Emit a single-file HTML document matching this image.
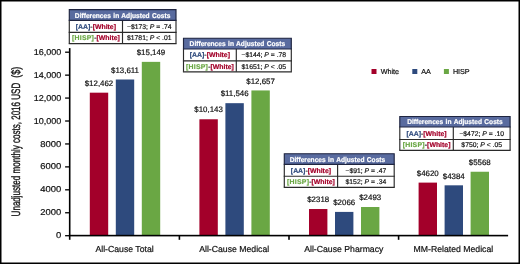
<!DOCTYPE html>
<html><head><meta charset="utf-8"><style>
html,body{margin:0;padding:0;background:#fff;width:520px;height:264px;overflow:hidden}
svg{display:block;will-change:transform;text-rendering:geometricPrecision;font-family:"Liberation Sans",sans-serif}
</style></head><body>
<svg width="520" height="264" viewBox="0 0 520 264">
<rect x="0" y="0" width="520" height="1.5" fill="#000"/>
<rect x="0" y="0" width="1.5" height="264" fill="#000"/>
<rect x="518.5" y="0" width="1.5" height="264" fill="#000"/>
<rect x="0" y="262.5" width="520" height="1.5" fill="#000"/>
<text transform="translate(20.2,216.4) rotate(-90) scale(0.66,1)" font-size="12.2" fill="#111" stroke="#111" stroke-width="0.35">Unadjusted monthly costs, 2016 USD</text>
<text transform="translate(20.2,77.75) rotate(-90) scale(0.745,1)" font-size="12.2" fill="#111" stroke="#111" stroke-width="0.35">($)</text>
<rect x="65.1" y="235.05" width="4" height="1.3" fill="#000"/>
<text transform="translate(61.2,238.30) scale(1.11,1)" text-anchor="end" font-size="8.5" fill="#111" stroke="#111" stroke-width="0.2">0</text>
<rect x="65.1" y="212.11" width="4" height="1.3" fill="#000"/>
<text transform="translate(61.2,215.36) scale(1.11,1)" text-anchor="end" font-size="8.5" fill="#111" stroke="#111" stroke-width="0.2">2000</text>
<rect x="65.1" y="189.17" width="4" height="1.3" fill="#000"/>
<text transform="translate(61.2,192.42) scale(1.11,1)" text-anchor="end" font-size="8.5" fill="#111" stroke="#111" stroke-width="0.2">4000</text>
<rect x="65.1" y="166.24" width="4" height="1.3" fill="#000"/>
<text transform="translate(61.2,169.49) scale(1.11,1)" text-anchor="end" font-size="8.5" fill="#111" stroke="#111" stroke-width="0.2">6000</text>
<rect x="65.1" y="143.30" width="4" height="1.3" fill="#000"/>
<text transform="translate(61.2,146.55) scale(1.11,1)" text-anchor="end" font-size="8.5" fill="#111" stroke="#111" stroke-width="0.2">8000</text>
<rect x="65.1" y="120.36" width="4" height="1.3" fill="#000"/>
<text transform="translate(61.2,123.61) scale(1.06,1)" text-anchor="end" font-size="8.5" fill="#111" stroke="#111" stroke-width="0.2">10,000</text>
<rect x="65.1" y="97.42" width="4" height="1.3" fill="#000"/>
<text transform="translate(61.2,100.67) scale(1.06,1)" text-anchor="end" font-size="8.5" fill="#111" stroke="#111" stroke-width="0.2">12,000</text>
<rect x="65.1" y="74.49" width="4" height="1.3" fill="#000"/>
<text transform="translate(61.2,77.74) scale(1.06,1)" text-anchor="end" font-size="8.5" fill="#111" stroke="#111" stroke-width="0.2">14,000</text>
<rect x="65.1" y="51.55" width="4" height="1.3" fill="#000"/>
<text transform="translate(61.2,54.80) scale(1.06,1)" text-anchor="end" font-size="8.5" fill="#111" stroke="#111" stroke-width="0.2">16,000</text>
<rect x="68.9" y="48.1" width="1.6" height="191.70" fill="#000"/>
<rect x="89.80" y="92.68" width="18.4" height="142.92" fill="#a3002a"/>
<text x="99.00" y="85.88" text-anchor="middle" font-size="7.9" fill="#111" stroke="#111" stroke-width="0.2">$12,462</text>
<rect x="115.80" y="79.50" width="18.4" height="156.10" fill="#2e4a7d"/>
<text x="125.00" y="72.70" text-anchor="middle" font-size="7.9" fill="#111" stroke="#111" stroke-width="0.2">$13,611</text>
<rect x="141.80" y="61.86" width="18.4" height="173.74" fill="#6aa744"/>
<text x="151.00" y="55.06" text-anchor="middle" font-size="7.9" fill="#111" stroke="#111" stroke-width="0.2">$15,149</text>
<rect x="199.40" y="119.27" width="18.4" height="116.33" fill="#a3002a"/>
<text x="208.60" y="112.47" text-anchor="middle" font-size="7.9" fill="#111" stroke="#111" stroke-width="0.2">$10,143</text>
<rect x="225.40" y="103.18" width="18.4" height="132.42" fill="#2e4a7d"/>
<text x="234.60" y="96.38" text-anchor="middle" font-size="7.9" fill="#111" stroke="#111" stroke-width="0.2">$11,546</text>
<rect x="251.40" y="90.44" width="18.4" height="145.16" fill="#6aa744"/>
<text x="260.60" y="83.64" text-anchor="middle" font-size="7.9" fill="#111" stroke="#111" stroke-width="0.2">$12,657</text>
<rect x="309.00" y="209.02" width="18.4" height="26.58" fill="#a3002a"/>
<text x="318.20" y="202.22" text-anchor="middle" font-size="7.9" fill="#111" stroke="#111" stroke-width="0.2">$2318</text>
<rect x="335.00" y="211.91" width="18.4" height="23.69" fill="#2e4a7d"/>
<text x="344.20" y="205.11" text-anchor="middle" font-size="7.9" fill="#111" stroke="#111" stroke-width="0.2">$2066</text>
<rect x="361.00" y="207.01" width="18.4" height="28.59" fill="#6aa744"/>
<text x="370.20" y="200.21" text-anchor="middle" font-size="7.9" fill="#111" stroke="#111" stroke-width="0.2">$2493</text>
<rect x="418.60" y="182.61" width="18.4" height="52.99" fill="#a3002a"/>
<text x="427.80" y="175.81" text-anchor="middle" font-size="7.9" fill="#111" stroke="#111" stroke-width="0.2">$4620</text>
<rect x="444.60" y="185.32" width="18.4" height="50.28" fill="#2e4a7d"/>
<text x="453.80" y="178.52" text-anchor="middle" font-size="7.9" fill="#111" stroke="#111" stroke-width="0.2">$4384</text>
<rect x="470.60" y="171.74" width="18.4" height="63.86" fill="#6aa744"/>
<text x="479.80" y="164.94" text-anchor="middle" font-size="7.9" fill="#111" stroke="#111" stroke-width="0.2">$5568</text>
<rect x="68.8" y="234.8" width="439.30" height="1.6" fill="#000"/>
<rect x="178.60" y="235" width="1.6" height="4.8" fill="#000"/>
<rect x="288.20" y="235" width="1.6" height="4.8" fill="#000"/>
<rect x="397.80" y="235" width="1.6" height="4.8" fill="#000"/>
<text x="124.60" y="251.8" text-anchor="middle" font-size="8.7" fill="#111" stroke="#111" stroke-width="0.2">All-Cause Total</text>
<text x="234.20" y="251.8" text-anchor="middle" font-size="8.7" fill="#111" stroke="#111" stroke-width="0.2">All-Cause Medical</text>
<text x="343.80" y="251.8" text-anchor="middle" font-size="8.7" fill="#111" stroke="#111" stroke-width="0.2">All-Cause Pharmacy</text>
<text x="453.40" y="251.8" text-anchor="middle" font-size="8.7" fill="#111" stroke="#111" stroke-width="0.2">MM-Related Medical</text>
<rect x="371.5" y="69" width="5" height="5" fill="#a3002a"/>
<text x="380.7" y="74" font-size="7.2" fill="#111" stroke="#111" stroke-width="0.2">White</text>
<rect x="412.3" y="69" width="5" height="5" fill="#2e4a7d"/>
<text x="421.3" y="74" font-size="7.2" fill="#111" stroke="#111" stroke-width="0.2">AA</text>
<rect x="443.9" y="69" width="5" height="5" fill="#6aa744"/>
<text x="452.9" y="74" font-size="7.2" fill="#111" stroke="#111" stroke-width="0.2">HISP</text>
<rect x="69.3" y="9.6" width="106.70" height="34.00" fill="#fff"/>
<rect x="69.3" y="9.6" width="106.70" height="10.70" fill="#596b9f"/>
<line x1="69.3" y1="20.3" x2="69.3" y2="43.6" stroke="#2a2a2a" stroke-width="1.15"/>
<line x1="176.0" y1="20.3" x2="176.0" y2="43.6" stroke="#2a2a2a" stroke-width="1.15"/>
<line x1="122.5" y1="20.3" x2="122.5" y2="43.6" stroke="#2a2a2a" stroke-width="1.15"/>
<line x1="68.72" y1="32.4" x2="176.57" y2="32.4" stroke="#2a2a2a" stroke-width="1.15"/>
<line x1="68.72" y1="43.6" x2="176.57" y2="43.6" stroke="#2a2a2a" stroke-width="1.15"/>
<path d="M69.3,20.3 V9.6 H176.0 V20.3" fill="none" stroke="#1f2540" stroke-width="1.15" stroke-linejoin="miter"/>
<line x1="68.72" y1="20.3" x2="176.57" y2="20.3" stroke="#1f2540" stroke-width="1.15"/>
<text transform="translate(122.65,17.70) scale(0.945,1)" text-anchor="middle" font-size="7.0" font-weight="bold" word-spacing="0.6" fill="#fff" stroke="#fff" stroke-width="0.2">Differences in Adjusted Costs</text>
<text x="95.90" y="28.85" text-anchor="middle" font-size="6.9" font-weight="bold" stroke-width="0.2"><tspan fill="#2e4a7d" stroke="#2e4a7d">[AA]</tspan><tspan fill="#555" stroke="#555">-</tspan><tspan fill="#a3002a" stroke="#a3002a">[White]</tspan></text>
<text x="95.90" y="40.00" text-anchor="middle" font-size="6.9" font-weight="bold" stroke-width="0.2"><tspan fill="#6aa744" stroke="#6aa744" letter-spacing="0.25">[HISP]</tspan><tspan fill="#555" stroke="#555">-</tspan><tspan fill="#a3002a" stroke="#a3002a">[White]</tspan></text>
<text x="149.25" y="28.85" text-anchor="middle" font-size="6.8" fill="#111" stroke="#111" stroke-width="0.18">−$173; <tspan font-style="italic">P</tspan> = .74</text>
<text x="149.25" y="40.00" text-anchor="middle" font-size="6.8" fill="#111" stroke="#111" stroke-width="0.18">$1781; <tspan font-style="italic">P</tspan> &lt; .01</text>
<rect x="183.5" y="38.2" width="107.80" height="33.60" fill="#fff"/>
<rect x="183.5" y="38.2" width="107.80" height="10.80" fill="#596b9f"/>
<line x1="183.5" y1="49.0" x2="183.5" y2="71.8" stroke="#2a2a2a" stroke-width="1.15"/>
<line x1="291.3" y1="49.0" x2="291.3" y2="71.8" stroke="#2a2a2a" stroke-width="1.15"/>
<line x1="236.3" y1="49.0" x2="236.3" y2="71.8" stroke="#2a2a2a" stroke-width="1.15"/>
<line x1="182.93" y1="60.9" x2="291.88" y2="60.9" stroke="#2a2a2a" stroke-width="1.15"/>
<line x1="182.93" y1="71.8" x2="291.88" y2="71.8" stroke="#2a2a2a" stroke-width="1.15"/>
<path d="M183.5,49.0 V38.2 H291.3 V49.0" fill="none" stroke="#1f2540" stroke-width="1.15" stroke-linejoin="miter"/>
<line x1="182.93" y1="49.0" x2="291.88" y2="49.0" stroke="#1f2540" stroke-width="1.15"/>
<text transform="translate(237.40,46.35) scale(0.945,1)" text-anchor="middle" font-size="7.0" font-weight="bold" word-spacing="0.6" fill="#fff" stroke="#fff" stroke-width="0.2">Differences in Adjusted Costs</text>
<text x="209.90" y="57.45" text-anchor="middle" font-size="6.9" font-weight="bold" stroke-width="0.2"><tspan fill="#2e4a7d" stroke="#2e4a7d">[AA]</tspan><tspan fill="#555" stroke="#555">-</tspan><tspan fill="#a3002a" stroke="#a3002a">[White]</tspan></text>
<text x="209.90" y="68.85" text-anchor="middle" font-size="6.9" font-weight="bold" stroke-width="0.2"><tspan fill="#6aa744" stroke="#6aa744" letter-spacing="0.25">[HISP]</tspan><tspan fill="#555" stroke="#555">-</tspan><tspan fill="#a3002a" stroke="#a3002a">[White]</tspan></text>
<text x="263.80" y="57.45" text-anchor="middle" font-size="6.8" fill="#111" stroke="#111" stroke-width="0.18">−$144; <tspan font-style="italic">P</tspan> = .78</text>
<text x="263.80" y="68.85" text-anchor="middle" font-size="6.8" fill="#111" stroke="#111" stroke-width="0.18">$1651; <tspan font-style="italic">P</tspan> &lt; .05</text>
<rect x="284.3" y="153.7" width="109.90" height="33.60" fill="#fff"/>
<rect x="284.3" y="153.7" width="109.90" height="10.70" fill="#596b9f"/>
<line x1="284.3" y1="164.4" x2="284.3" y2="187.3" stroke="#2a2a2a" stroke-width="1.15"/>
<line x1="394.2" y1="164.4" x2="394.2" y2="187.3" stroke="#2a2a2a" stroke-width="1.15"/>
<line x1="337.6" y1="164.4" x2="337.6" y2="187.3" stroke="#2a2a2a" stroke-width="1.15"/>
<line x1="283.73" y1="176.2" x2="394.77" y2="176.2" stroke="#2a2a2a" stroke-width="1.15"/>
<line x1="283.73" y1="187.3" x2="394.77" y2="187.3" stroke="#2a2a2a" stroke-width="1.15"/>
<path d="M284.3,164.4 V153.7 H394.2 V164.4" fill="none" stroke="#1f2540" stroke-width="1.15" stroke-linejoin="miter"/>
<line x1="283.73" y1="164.4" x2="394.77" y2="164.4" stroke="#1f2540" stroke-width="1.15"/>
<text transform="translate(337.45,161.80) scale(0.945,1)" text-anchor="middle" font-size="7.0" font-weight="bold" word-spacing="0.6" fill="#fff" stroke="#fff" stroke-width="0.2">Differences in Adjusted Costs</text>
<text x="310.95" y="172.80" text-anchor="middle" font-size="6.9" font-weight="bold" stroke-width="0.2"><tspan fill="#2e4a7d" stroke="#2e4a7d">[AA]</tspan><tspan fill="#555" stroke="#555">-</tspan><tspan fill="#a3002a" stroke="#a3002a">[White]</tspan></text>
<text x="310.95" y="184.25" text-anchor="middle" font-size="6.9" font-weight="bold" stroke-width="0.2"><tspan fill="#6aa744" stroke="#6aa744" letter-spacing="0.25">[HISP]</tspan><tspan fill="#555" stroke="#555">-</tspan><tspan fill="#a3002a" stroke="#a3002a">[White]</tspan></text>
<text x="365.90" y="172.80" text-anchor="middle" font-size="6.8" fill="#111" stroke="#111" stroke-width="0.18">−$91; <tspan font-style="italic">P</tspan> = .47</text>
<text x="365.90" y="184.25" text-anchor="middle" font-size="6.8" fill="#111" stroke="#111" stroke-width="0.18">$152; <tspan font-style="italic">P</tspan> = .34</text>
<rect x="399.8" y="116.5" width="110.30" height="33.80" fill="#fff"/>
<rect x="399.8" y="116.5" width="110.30" height="10.50" fill="#596b9f"/>
<line x1="399.8" y1="127.0" x2="399.8" y2="150.3" stroke="#2a2a2a" stroke-width="1.15"/>
<line x1="510.1" y1="127.0" x2="510.1" y2="150.3" stroke="#2a2a2a" stroke-width="1.15"/>
<line x1="453.3" y1="127.0" x2="453.3" y2="150.3" stroke="#2a2a2a" stroke-width="1.15"/>
<line x1="399.23" y1="139.5" x2="510.68" y2="139.5" stroke="#2a2a2a" stroke-width="1.15"/>
<line x1="399.23" y1="150.3" x2="510.68" y2="150.3" stroke="#2a2a2a" stroke-width="1.15"/>
<path d="M399.8,127.0 V116.5 H510.1 V127.0" fill="none" stroke="#1f2540" stroke-width="1.15" stroke-linejoin="miter"/>
<line x1="399.23" y1="127.0" x2="510.68" y2="127.0" stroke="#1f2540" stroke-width="1.15"/>
<text transform="translate(454.95,124.10) scale(0.945,1)" text-anchor="middle" font-size="7.0" font-weight="bold" word-spacing="0.6" fill="#fff" stroke="#fff" stroke-width="0.2">Differences in Adjusted Costs</text>
<text x="426.55" y="135.75" text-anchor="middle" font-size="6.9" font-weight="bold" stroke-width="0.2"><tspan fill="#2e4a7d" stroke="#2e4a7d">[AA]</tspan><tspan fill="#555" stroke="#555">-</tspan><tspan fill="#a3002a" stroke="#a3002a">[White]</tspan></text>
<text x="426.55" y="147.40" text-anchor="middle" font-size="6.9" font-weight="bold" stroke-width="0.2"><tspan fill="#6aa744" stroke="#6aa744" letter-spacing="0.25">[HISP]</tspan><tspan fill="#555" stroke="#555">-</tspan><tspan fill="#a3002a" stroke="#a3002a">[White]</tspan></text>
<text x="481.70" y="135.75" text-anchor="middle" font-size="6.8" fill="#111" stroke="#111" stroke-width="0.18">−$472; <tspan font-style="italic">P</tspan> = .10</text>
<text x="481.70" y="147.40" text-anchor="middle" font-size="6.8" fill="#111" stroke="#111" stroke-width="0.18">$750; <tspan font-style="italic">P</tspan> &lt; .05</text>
</svg>
</body></html>
